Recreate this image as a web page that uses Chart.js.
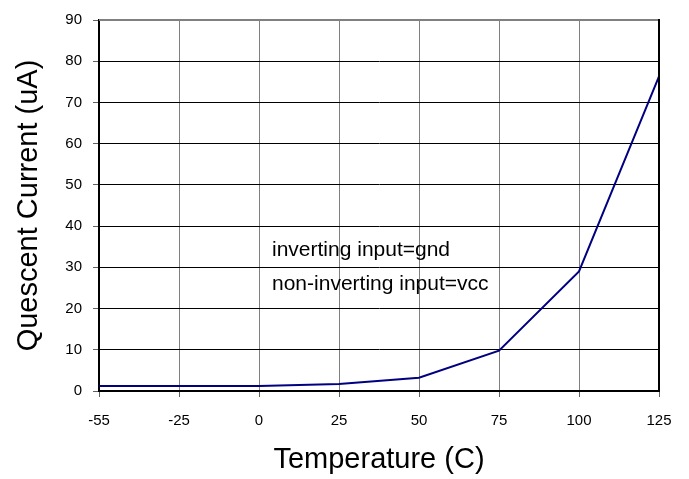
<!DOCTYPE html>
<html>
<head>
<meta charset="utf-8">
<script src="https://cdn.jsdelivr.net/npm/chart.js@4/dist/chart.umd.min.js"></script>
<style>
  html, body { margin: 0; padding: 0; background: #ffffff; }
  #wrap { width: 689px; height: 479px; position: relative; }
</style>
</head>
<body>
<div id="wrap"><canvas id="c"></canvas></div>
<script>
// ---- data ----
const categories = ['-55', '-25', '0', '25', '50', '75', '100', '125'];
const quiescentCurrent = [1.2, 1.2, 1.2, 1.7, 3.2, 9.8, 29, 76.3];
const yMin = 0;
const yMax = 90;
const yStep = 10;
const noteLines = ['inverting input=gnd', 'non-inverting input=vcc'];
const xTitle = 'Temperature (C)';
const yTitle = 'Quescent Current (uA)';

const FONT = "'Liberation Sans', Arial, Helvetica, sans-serif";

const framePlugin = {
  id: 'frame',
  afterDraw(chart) {
    const { ctx, chartArea: a } = chart;
    ctx.save();
    // top border (gray)
    ctx.strokeStyle = '#808080';
    ctx.lineWidth = 2;
    ctx.beginPath();
    ctx.moveTo(a.left, a.top);
    ctx.lineTo(a.right, a.top);
    ctx.stroke();
    // right border (black)
    ctx.strokeStyle = '#000000';
    ctx.lineWidth = 2;
    ctx.beginPath();
    ctx.moveTo(a.right, a.top - 1);
    ctx.lineTo(a.right, a.bottom);
    ctx.stroke();
    // annotation
    ctx.fillStyle = '#000000';
    ctx.font = '21px ' + FONT;
    ctx.textBaseline = 'alphabetic';
    ctx.textAlign = 'left';
    ctx.fillText(noteLines[0], a.left + 173, 256);
    ctx.fillText(noteLines[1], a.left + 173, 290);
    ctx.restore();
  }
};

new Chart(document.getElementById('c'), {
  type: 'line',
  data: {
    labels: categories,
    datasets: [{
      data: quiescentCurrent,
      borderColor: '#000080',
      backgroundColor: '#000080',
      borderWidth: 2,
      pointRadius: 0,
      tension: 0,
      fill: false
    }]
  },
  options: {
    responsive: true,
    maintainAspectRatio: false,
    animation: false,
    devicePixelRatio: 1,
    layout: { padding: { left: 0, right: 30, top: 16, bottom: 0 } },
    plugins: {
      legend: { display: false },
      tooltip: { enabled: false },
      title: { display: false }
    },
    scales: {
      x: {
        type: 'category',
        offset: false,
        afterFit(scale) { scale.height = 88; },
        grid: {
          color: '#808080',
          lineWidth: 1,
          tickColor: '#606060',
          tickLength: 6,
          drawTicks: true
        },
        border: { display: true, color: '#000000', width: 2 },
        ticks: {
          color: '#000000',
          font: { family: FONT, size: 15 },
          padding: 15,
          maxRotation: 0,
          autoSkip: false
        },
        title: {
          display: true,
          text: xTitle,
          color: '#000000',
          font: { family: FONT, size: 29 },
          padding: { top: 0, bottom: 2 }
        }
      },
      y: {
        min: yMin,
        max: yMax,
        afterFit(scale) { scale.width = 99; },
        grid: {
          color: '#000000',
          lineWidth: 1,
          tickColor: '#606060',
          tickLength: 6
        },
        border: { display: true, color: '#000000', width: 2 },
        ticks: {
          stepSize: yStep,
          color: '#000000',
          font: { family: FONT, size: 15 },
          padding: 11
        },
        title: {
          display: true,
          text: yTitle,
          color: '#000000',
          font: { family: FONT, size: 29 },
          padding: { top: 12, bottom: 0 }
        }
      }
    }
  },
  plugins: [framePlugin]
});
</script>
</body>
</html>
